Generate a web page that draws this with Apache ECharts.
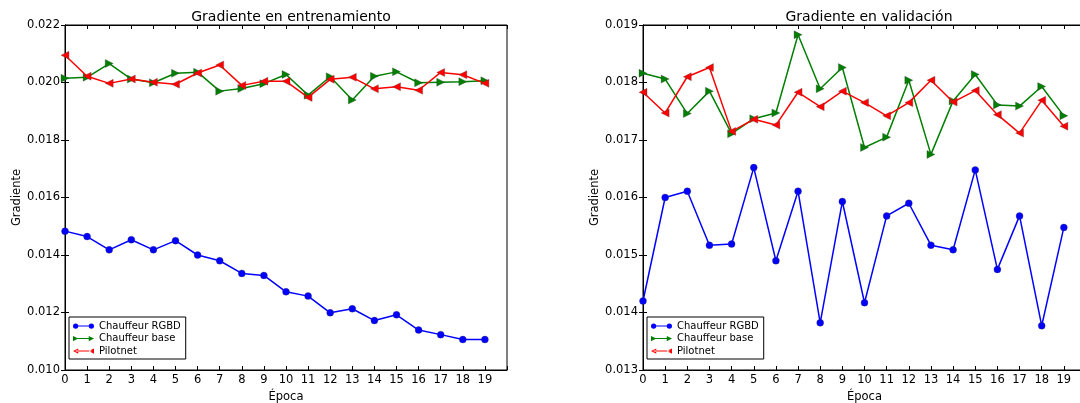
<!DOCTYPE html>
<html>
<head>
<meta charset="utf-8">
<script src="https://cdn.jsdelivr.net/npm/echarts@6/dist/echarts.min.js"></script>
<style>
  html, body { margin: 0; padding: 0; background: #fff; }
  #chart { width: 1080px; height: 403px; }
</style>
</head>
<body>
<div id="chart"></div>
<script>
var epocas = [0, 1, 2, 3, 4, 5, 6, 7, 8, 9, 10, 11, 12, 13, 14, 15, 16, 17, 18, 19];

// entrenamiento
var trainRGBD = [0.01483, 0.01464, 0.01418, 0.01453, 0.01418, 0.01450, 0.01400, 0.01380, 0.01336, 0.01329,
                 0.01272, 0.01257, 0.01199, 0.01213, 0.01172, 0.01192, 0.01139, 0.01123, 0.01106, 0.01106];
var trainBase = [0.02015, 0.02018, 0.02066, 0.02012, 0.01999, 0.02032, 0.02036, 0.01970, 0.01979, 0.01996,
                 0.02028, 0.01956, 0.02020, 0.01939, 0.02022, 0.02037, 0.01999, 0.02001, 0.02003, 0.02006];
var trainPilot = [0.02095, 0.02022, 0.01997, 0.02012, 0.02001, 0.01994, 0.02033, 0.02061, 0.01990, 0.02004,
                  0.02004, 0.01948, 0.02011, 0.02018, 0.01978, 0.01985, 0.01973, 0.02035, 0.02027, 0.01997];

// validación
var valRGBD = [0.01420, 0.01600, 0.01611, 0.01517, 0.01519, 0.01652, 0.01490, 0.01611, 0.01382, 0.01593,
               0.01417, 0.01568, 0.01590, 0.01517, 0.01509, 0.01648, 0.01475, 0.01568, 0.01377, 0.01548];
var valBase = [0.01816, 0.01806, 0.01746, 0.01785, 0.01711, 0.01737, 0.01747, 0.01883, 0.01789, 0.01826,
               0.01687, 0.01705, 0.01804, 0.01675, 0.01768, 0.01814, 0.01761, 0.01759, 0.01793, 0.01742];
var valPilot = [0.01783, 0.01747, 0.01810, 0.01826, 0.01715, 0.01736, 0.01726, 0.01783, 0.01758, 0.01785,
                0.01765, 0.01742, 0.01765, 0.01804, 0.01766, 0.01786, 0.01744, 0.01712, 0.01769, 0.01724];

var nombres = ["Chauffeur RGBD", "Chauffeur base", "Pilotnet"];
var titulos = ["Gradiente en entrenamiento", "Gradiente en validación"];

var FONT = "DejaVu Sans";
var myChart = echarts.init(document.getElementById("chart"));

function pares(vals) {
    return vals.map(function (v, i) { return [epocas[i], v]; });
}

// iconos de leyenda estilo matplotlib (línea con dos marcadores)
var iconCirc = "path://M0,4A4,4 0 1,1 8,4A4,4 0 1,1 0,4Z M24,4A4,4 0 1,1 32,4A4,4 0 1,1 24,4Z M4,3.3L28,3.3L28,4.7L4,4.7Z";
var iconDer = "path://M0,0L8,4L0,8Z M24,0L32,4L24,8Z M4,3.3L28,3.3L28,4.7L4,4.7Z";
var iconIzq = "path://M8,0L0,4L8,8Z M32,0L24,4L32,8Z M4,3.3L28,3.3L28,4.7L4,4.7Z";

var grids = [
    { left: 65, top: 25, width: 442, height: 345, show: true, borderColor: "#000", borderWidth: 1,
      outerBoundsMode: "none" },
    { left: 643, top: 25, width: 443, height: 345, show: true, borderColor: "#000", borderWidth: 1,
      outerBoundsMode: "none" }
];
var rangos = [[0.010, 0.022, 0.002], [0.013, 0.019, 0.001]];

var xAxes = [], yAxes = [];
[0, 1].forEach(function (g) {
    xAxes.push({
        type: "value", gridIndex: g, min: 0, max: 20, interval: 1,
        name: "Época", nameLocation: "middle", nameGap: 19,
        nameTextStyle: { fontFamily: FONT, fontSize: 11.5, color: "#000" },
        axisLine: { lineStyle: { color: "#000" } },
        axisTick: { inside: true, length: 4, lineStyle: { color: "#000" } },
        axisLabel: { fontFamily: FONT, fontSize: 11.5, color: "#000", margin: 4,
            formatter: function (v) { return v < 20 ? String(v) : ""; } },
        splitLine: { show: false }
    });
    xAxes.push({
        type: "value", gridIndex: g, position: "top", min: 0, max: 20, interval: 1,
        axisLine: { lineStyle: { color: "#000" } },
        axisTick: { inside: true, length: 4, lineStyle: { color: "#000" } },
        axisLabel: { show: false }, splitLine: { show: false }
    });
    var r = rangos[g];
    yAxes.push({
        type: "value", gridIndex: g, min: r[0], max: r[1], interval: r[2],
        name: "Gradiente", nameLocation: "middle", nameGap: 42,
        nameTextStyle: { fontFamily: FONT, fontSize: 11.5, color: "#000" },
        axisLine: { show: true, lineStyle: { color: "#000" } },
        axisTick: { show: true, inside: true, length: 4, lineStyle: { color: "#000" } },
        axisLabel: { fontFamily: FONT, fontSize: 11.5, color: "#000", margin: 5,
            formatter: function (v) { return v.toFixed(3); } },
        splitLine: { show: false }
    });
    yAxes.push({
        type: "value", gridIndex: g, position: "right", min: r[0], max: r[1], interval: r[2],
        axisLine: { show: true, lineStyle: { color: "#000" } },
        axisTick: { show: true, inside: true, length: 4, lineStyle: { color: "#000" } },
        axisLabel: { show: false }, splitLine: { show: false }
    });
});

var conjuntos = [[trainRGBD, trainBase, trainPilot], [valRGBD, valBase, valPilot]];
var colores = ["#0000ff", "#007f00", "#ff0000"];
var simbolos = ["circle", "triangle", "triangle"];
var giros = [0, -90, 90];
var tamanos = [7, 8, 8];

var series = [];
[0, 1].forEach(function (g) {
    conjuntos[g].forEach(function (vals, k) {
        series.push({
            name: nombres[k], type: "line", xAxisIndex: g * 2, yAxisIndex: g * 2,
            data: pares(vals),
            symbol: simbolos[k], symbolRotate: giros[k], symbolSize: tamanos[k],
            showAllSymbol: true,
            lineStyle: { color: colores[k], width: 1.5 },
            itemStyle: { color: colores[k], borderColor: "rgba(60,60,60,0.6)", borderWidth: 0.5 },
            emphasis: { disabled: true },
            animation: false, z: 3 + k
        });
    });
});

function leyenda(left) {
    return {
        left: left, top: 317, orient: "vertical",
        data: [
            { name: nombres[0], icon: iconCirc, itemStyle: { borderWidth: 0 } },
            { name: nombres[1], icon: iconDer, itemStyle: { borderWidth: 0 } },
            { name: nombres[2], icon: iconIzq, itemStyle: { borderWidth: 0 } }
        ],
        itemWidth: 21, itemHeight: 6, itemGap: 2.5,
        padding: [4, 5, 3, 4],
        borderColor: "#000", borderWidth: 1, backgroundColor: "#fff",
        textStyle: { fontFamily: FONT, fontSize: 10, color: "#000" },
        selectedMode: false
    };
}

var option = {
    backgroundColor: "#fff",
    animation: false,
    title: [
        { text: titulos[0], left: 286, top: 5, textAlign: "center",
          textStyle: { fontFamily: FONT, fontSize: 14, fontWeight: "normal", color: "#000" } },
        { text: titulos[1], left: 864, top: 5, textAlign: "center",
          textStyle: { fontFamily: FONT, fontSize: 14, fontWeight: "normal", color: "#000" } }
    ],
    legend: [leyenda(69), leyenda(647)],
    grid: grids,
    xAxis: xAxes,
    yAxis: yAxes,
    series: series
};

myChart.setOption(option);
window.addEventListener("resize", function () {
    myChart.resize();
});
</script>
</body>
</html>
